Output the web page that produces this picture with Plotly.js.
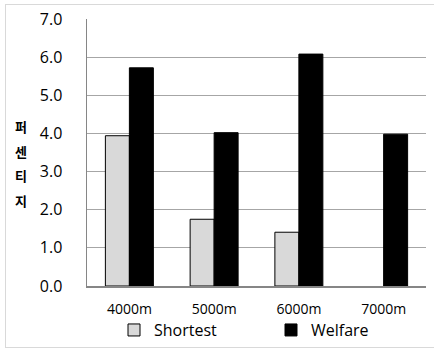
<!DOCTYPE html>
<html>
<head>
<meta charset="utf-8">
<script src="https://cdn.plot.ly/plotly-3.0.1.min.js"></script>
<style>
  html, body { margin: 0; padding: 0; background: #ffffff; }
  #frame {
    position: absolute; left: 5px; top: 4px;
    width: 440px; height: 344px;
    border: 1px solid #d9d9d9; box-sizing: border-box;
  }
  #chart { position: absolute; left: 0; top: 0; width: 434px; height: 349px; }
</style>
</head>
<body>
<div id="frame"></div>
<div id="chart"></div>
<script>
// Distances travelled and the percentage measured for each routing policy
const categories = ['4000m', '5000m', '6000m', '7000m'];
const shortestValues = [3.94, 1.75, 1.41, null];
const welfareValues = [5.72, 4.02, 6.08, 3.98];
const yTickValues = [0, 1, 2, 3, 4, 5, 6, 7];
const yTickLabels = ['0.0', '1.0', '2.0', '3.0', '4.0', '5.0', '6.0', '7.0'];
const yTitleChars = ['퍼', '센', '티', '지'];

const traces = [
  {
    type: 'bar', name: 'Shortest', x: categories, y: shortestValues,
    marker: { color: '#d9d9d9', line: { color: '#000000', width: 1 } },
    hoverinfo: 'skip'
  },
  {
    type: 'bar', name: 'Welfare', x: categories, y: welfareValues,
    marker: { color: '#000000', line: { color: '#000000', width: 1 } },
    hoverinfo: 'skip'
  }
];

// Vertical, character-by-character axis title
const titleAnnotations = yTitleChars.map((ch, i) => ({
  text: '<b>' + ch + '</b>',
  xref: 'paper', yref: 'paper',
  x: -0.195, y: 0.597 - i * 0.0925,
  xanchor: 'center', yanchor: 'middle',
  showarrow: false,
  font: { family: 'Noto Sans CJK KR', size: 13, color: '#000000' }
}));

const layout = {
  width: 434, height: 349,
  margin: { l: 87, r: 8, t: 19, b: 63, autoexpand: false },
  paper_bgcolor: 'rgba(0,0,0,0)',
  plot_bgcolor: '#ffffff',
  barmode: 'group',
  bargap: 0.434,
  bargroupgap: 0,
  showlegend: true,
  legend: {
    orientation: 'h',
    x: (114 - 87) / 339, xanchor: 'left',
    y: -0.165, yanchor: 'middle',
    entrywidth: 112,
    font: { family: 'Open Sans', size: 16, color: '#000000' },
    itemclick: false, itemdoubleclick: false
  },
  xaxis: {
    type: 'category',
    showline: true, linecolor: '#868686', linewidth: 1.5,
    showgrid: false, ticks: '',
    ticklabelstandoff: 10,
    tickfont: { family: 'Open Sans', size: 14, color: '#000000' },
    fixedrange: true
  },
  yaxis: {
    range: [0, 7],
    tickvals: yTickValues, ticktext: yTickLabels,
    showline: true, linecolor: '#868686', linewidth: 1.5,
    showgrid: true, gridcolor: '#a6a6a6', gridwidth: 1,
    zeroline: false, ticks: '',
    ticklabelstandoff: 20,
    tickfont: { family: 'Open Sans', size: 16, color: '#000000' },
    fixedrange: true
  },
  annotations: titleAnnotations
};

Plotly.newPlot('chart', traces, layout, { displayModeBar: false, staticPlot: true });
</script>
</body>
</html>
